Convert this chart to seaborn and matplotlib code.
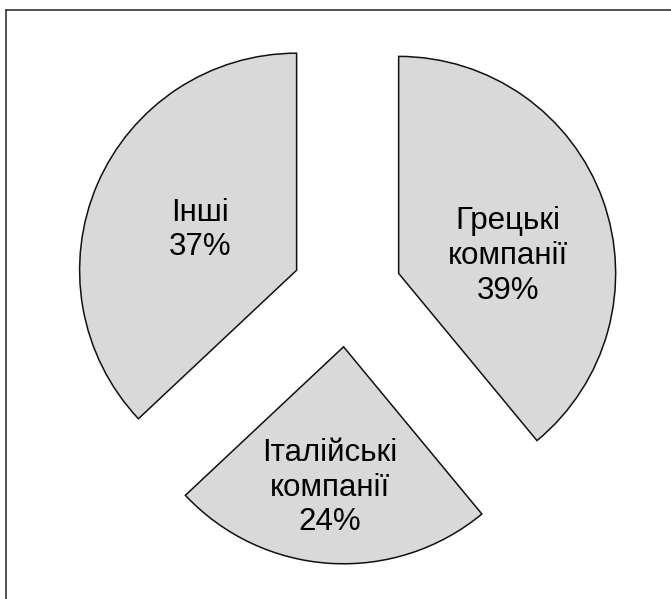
import matplotlib
matplotlib.use("Agg")
import matplotlib.pyplot as plt
import seaborn as sns
from matplotlib.lines import Line2D

categories = ["Грецькі\nкомпанії", "Італійські\nкомпанії", "Інші"]
values = [39, 24, 37]
label_pos = [(0.742, 0.166), (-0.078, -0.901), (-0.677, 0.286)]

sns.set_theme(style="white")
plt.rcParams['font.family'] = ['Liberation Sans', 'DejaVu Sans']

W, H = 671, 599
cx, cy, R = 347, 292, 217
fig = plt.figure(figsize=(W / 100, H / 100), dpi=100)
ax = fig.add_axes([0, 0, 1, 1])

wedges, _ = ax.pie(values, startangle=90, counterclock=False,
                   explode=[0.253] * len(values),
                   colors=["#d9d9d9"] * len(values),
                   wedgeprops=dict(edgecolor="#111111", linewidth=1.1))

for cat, v, (x, y) in zip(categories, values, label_pos):
    ax.text(x, y, f"{cat}\n{v}%", ha="center", va="center",
            fontsize=22.5, color="black", linespacing=1.2)

ax.set_xlim(-cx / R, (W - cx) / R)
ax.set_ylim(-(H - cy) / R, cy / R)
ax.set_aspect("equal", adjustable="box")
ax.axis("off")

# partial frame (top and left borders)
fig.add_artist(Line2D([6 / W, 1], [1 - 9.5 / H, 1 - 9.5 / H],
                      transform=fig.transFigure, color="#333333", linewidth=1.2))
fig.add_artist(Line2D([6 / W, 6 / W], [0, 1 - 9.5 / H],
                      transform=fig.transFigure, color="#333333", linewidth=1.2))

fig.savefig("out.png", dpi=100, facecolor="white")
